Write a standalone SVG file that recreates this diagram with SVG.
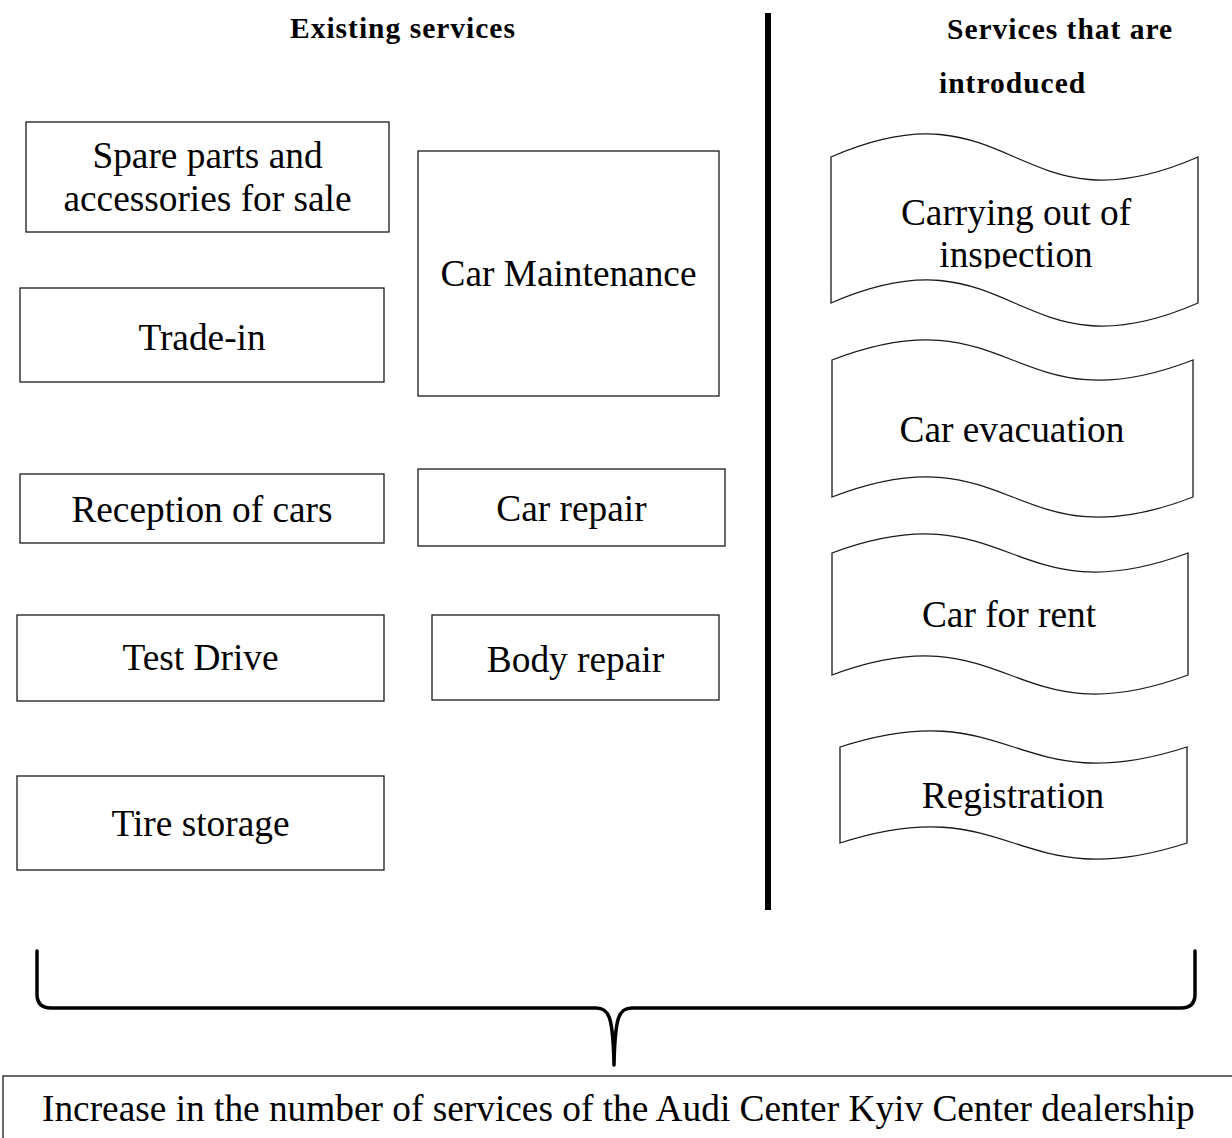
<svg xmlns="http://www.w3.org/2000/svg" width="1232" height="1138" viewBox="0 0 1232 1138">
  <style>
    .box { fill: none; stroke: #1a1a1a; stroke-width: 1.3; }
    .wave { fill: none; stroke: #1a1a1a; stroke-width: 1.3; }
    .t { font-family: "Liberation Serif", "Times New Roman", serif; font-size: 37.33px; fill: #000; text-anchor: middle; }
    .h { font-family: "Liberation Serif", "Times New Roman", serif; font-size: 29.5px; font-weight: bold; fill: #000; letter-spacing: 1px; }
    .thick { fill: none; stroke: #000; stroke-width: 3.5; stroke-linecap: round; stroke-linejoin: round; }
  </style>
  <defs>
    <clipPath id="clip1"><rect x="830" y="140" width="372" height="128.5"/></clipPath>
  </defs>
  <rect width="1232" height="1138" fill="#fff"/>

  <g id="headers">
    <text class="h" x="290" y="38">Existing services</text>
    <text class="h" x="947" y="39">Services that are</text>
    <text class="h" x="939" y="93">introduced</text>
  </g>

  <g id="n-spare">
    <rect class="box" x="26" y="122" width="363" height="110"/>
    <text class="t" x="207.5" y="168">Spare parts and</text>
    <text class="t" x="207.5" y="211">accessories for sale</text>
  </g>
  <g id="n-tradein">
    <rect class="box" x="20" y="288" width="364" height="94"/>
    <text class="t" x="202" y="350">Trade-in</text>
  </g>
  <g id="n-maintenance">
    <rect class="box" x="418" y="151" width="301" height="245"/>
    <text class="t" x="568.5" y="286">Car Maintenance</text>
  </g>
  <g id="n-reception">
    <rect class="box" x="20" y="474" width="364" height="69"/>
    <text class="t" x="202" y="522">Reception of cars</text>
  </g>
  <g id="n-carrepair">
    <rect class="box" x="418" y="469" width="307" height="77"/>
    <text class="t" x="571.5" y="521">Car repair</text>
  </g>
  <g id="n-testdrive">
    <rect class="box" x="17" y="615" width="367" height="86"/>
    <text class="t" x="200.5" y="670">Test Drive</text>
  </g>
  <g id="n-bodyrepair">
    <rect class="box" x="432" y="615" width="287" height="85"/>
    <text class="t" x="575.5" y="672">Body repair</text>
  </g>
  <g id="n-tire">
    <rect class="box" x="17" y="776" width="367" height="94"/>
    <text class="t" x="200.5" y="836">Tire storage</text>
  </g>

  <g id="n-inspection">
    <path class="wave" d="M831,157 C1014.5,77 1014.5,237 1198,157 L1198,303 C1014.5,383 1014.5,223 831,303 Z"/>
    <g clip-path="url(#clip1)">
      <text class="t" x="1016" y="225">Carrying out of</text>
      <text class="t" x="1016" y="267">inspection</text>
    </g>
  </g>
  <g id="n-evacuation">
    <path class="wave" d="M832,360 C1012.5,290 1012.5,430 1193,360 L1193,497 C1012.5,567 1012.5,427 832,497 Z"/>
    <text class="t" x="1012" y="442">Car evacuation</text>
  </g>
  <g id="n-rent">
    <path class="wave" d="M832,553 C1010,487 1010,619 1188,553 L1188,675 C1010,741 1010,609 832,675 Z"/>
    <text class="t" x="1009" y="627">Car for rent</text>
  </g>
  <g id="n-registration">
    <path class="wave" d="M840,747 C1013.5,691 1013.5,803 1187,747 L1187,843 C1013.5,899 1013.5,787 840,843 Z"/>
    <text class="t" x="1013" y="808">Registration</text>
  </g>

  <g id="connectors">
    <line x1="768" y1="13" x2="768" y2="910" stroke="#000" stroke-width="6"/>
    <path class="thick" d="M37,951 L37,994 Q37,1008 51,1008 L596,1008 C609,1008 613,1016 614,1065 C615,1016 619,1008 632,1008 L1181,1008 Q1195,1008 1195,994 L1195,951"/>
  </g>

  <g id="n-result">
    <rect class="box" x="3" y="1076" width="1240" height="80"/>
    <text class="t" x="42" y="1121" style="text-anchor:start">Increase in the number of services of the Audi Center Kyiv Center dealership</text>
  </g>
</svg>
